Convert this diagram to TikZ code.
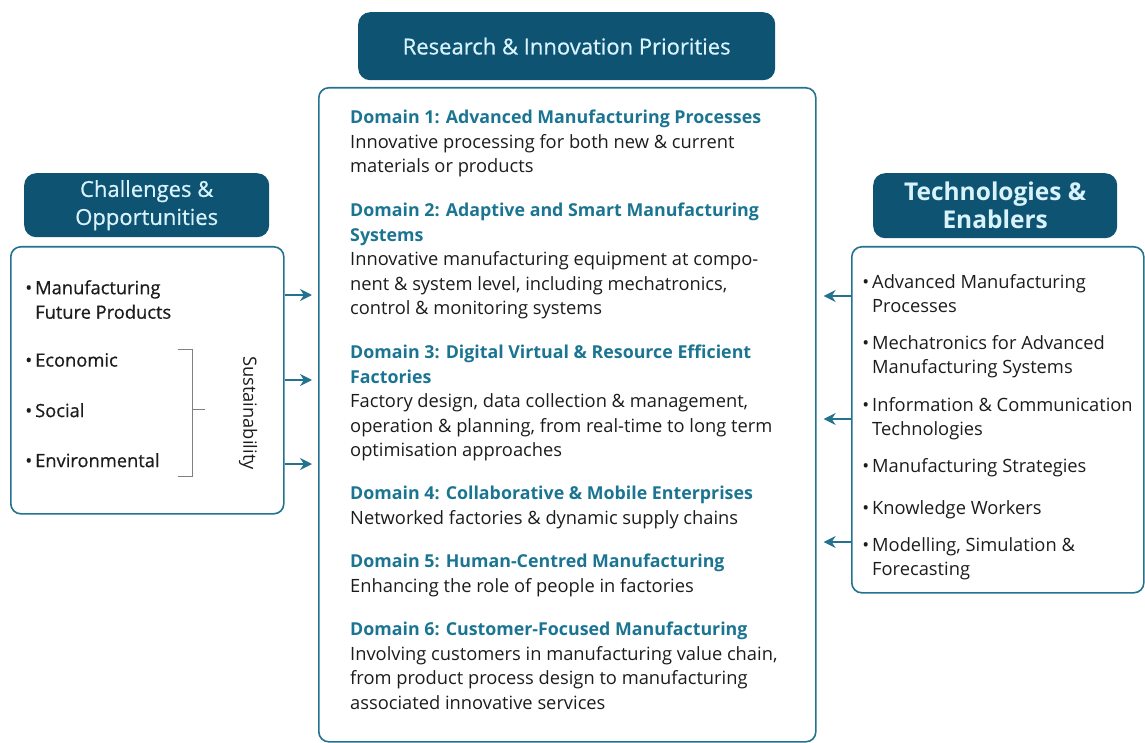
\documentclass[tikz,border=0pt]{standalone}
\usepackage{fontspec}
\setmainfont{Open Sans}
\newfontface\medface{Open Sans}[FakeBold=0.6]
\usetikzlibrary{arrows.meta, positioning}

\definecolor{hdblue}{HTML}{0E5372}
\definecolor{frame}{HTML}{23728E}
\definecolor{domteal}{HTML}{1B7592}
\definecolor{bodytxt}{HTML}{1C1C1C}

\tikzset{
  header/.style={fill=hdblue, rounded corners=12pt, text=white!85!cyan, align=center, inner sep=0pt, anchor=north west},
  panel/.style={draw=frame, line width=1.6pt, rounded corners=10pt, inner sep=0pt, anchor=north west},
  blurb/.style={anchor=north west, align=left, inner sep=0pt, text=bodytxt, font=\fontsize{18.3}{24.5}\selectfont},
  link/.style={draw=frame, line width=1.8pt, -{Stealth[length=12pt,width=12pt]}},
}
\newcommand{\dom}[1]{{\fontsize{17.8}{24.5}\selectfont\color{domteal}\bfseries #1}}
\newcommand{\itm}{\llap{\textbullet\hspace{3pt}}}

\begin{document}
\begin{tikzpicture}[x=1pt,y=-1pt]
\useasboundingbox (0,0) rectangle (1145,743);

% headers
\node[header, minimum width=417pt, minimum height=68pt, font=\fontsize{22}{26}\medface] (rip) at (358,12) {Research \& Innovation Priorities};
\node[header, minimum width=245pt, minimum height=64pt, font=\fontsize{22}{28}\medface] (chal) at (24,173) {Challenges \&\\Opportunities};
\node[header, minimum width=244pt, minimum height=65pt, font=\fontsize{24.5}{28}\selectfont\bfseries] (tech) at (873,173) {Technologies \&\\Enablers};

% panels
\node[panel, minimum width=497pt, minimum height=654pt] (prio) at (318,87) {};
\node[panel, minimum width=273pt, minimum height=267pt] (chalbox) at (10,246) {};
\node[panel, minimum width=292pt, minimum height=346pt] (techbox) at (851,246) {};

% domains
\node[blurb] (d1) at (350,110) {\dom{Domain 1: Advanced Manufacturing Processes}\\Innovative processing for both new \& current\\materials or products};
\node[blurb] (d2) at (350,203) {\dom{Domain 2: Adaptive and Smart Manufacturing}\\\dom{Systems}\\Innovative manufacturing equipment at compo-\\nent \& system level, including mechatronics,\\control \& monitoring systems};
\node[blurb] (d3) at (350,345) {\dom{Domain 3: Digital Virtual \& Resource Efficient}\\\dom{Factories}\\Factory design, data collection \& management,\\operation \& planning, from real-time to long term\\optimisation approaches};
\node[blurb] (d4) at (350,486) {\dom{Domain 4: Collaborative \& Mobile Enterprises}\\Networked factories \& dynamic supply chains};
\node[blurb] (d5) at (350,554) {\dom{Domain 5: Human-Centred Manufacturing}\\Enhancing the role of people in factories};
\node[blurb] (d6) at (350,622) {\dom{Domain 6: Customer-Focused Manufacturing}\\Involving customers in manufacturing value chain,\\from product process design to manufacturing\\associated innovative services};

% challenges
\node[blurb, font=\fontsize{18.3}{24.5}\medface] (c1) at (35,280) {\itm Manufacturing\\Future Products};
\node[blurb, font=\fontsize{18.3}{24.5}\medface] (c2) at (35,353) {\itm Economic};
\node[blurb, font=\fontsize{18.3}{24.5}\medface] (c3) at (35,403) {\itm Social};
\node[blurb, font=\fontsize{18.3}{24.5}\medface] (c4) at (35,453) {\itm Environmental};
\draw[gray, line width=0.8pt] (178,349) -- (192,349) -- (192,476) -- (178,476);
\draw[gray, line width=0.8pt] (192,409) -- (205,409);
\node[text=bodytxt, rotate=-90, inner sep=0pt, font=\fontsize{18.3}{20}\selectfont] (sust) at (248,413) {Sustainability};

% enablers
\node[blurb] (t1) at (872,274) {\itm Advanced Manufacturing\\Processes};
\node[blurb] (t2) at (872,335) {\itm Mechatronics for Advanced\\Manufacturing Systems};
\node[blurb] (t3) at (872,397) {\itm Information \& Communication\\Technologies};
\node[blurb] (t4) at (872,458) {\itm Manufacturing Strategies};
\node[blurb] (t5) at (872,500) {\itm Knowledge Workers};
\node[blurb] (t6) at (872,537) {\itm Modelling, Simulation \&\\Forecasting};

% arrows
\coordinate (l1) at (0,295);
\coordinate (l2) at (0,380);
\coordinate (l3) at (0,464);
\coordinate (r1) at (0,296);
\coordinate (r2) at (0,419);
\coordinate (r3) at (0,542);
\foreach \p in {l1,l2,l3}
  \draw[link, shorten >=6pt] (chalbox.east |- \p) -- (prio.west |- \p);
\foreach \p in {r1,r2,r3}
  \draw[link, shorten >=7pt] (techbox.west |- \p) -- (prio.east |- \p);
\end{tikzpicture}
\end{document}
